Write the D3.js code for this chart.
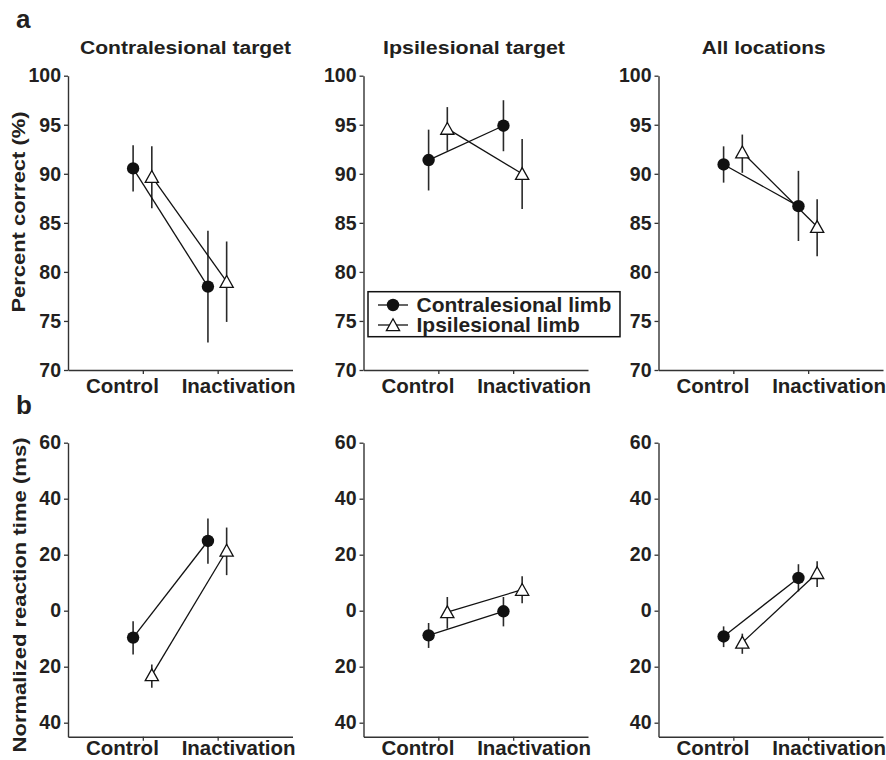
<!DOCTYPE html>
<html>
<head>
<meta charset="utf-8">
<script src="https://cdn.jsdelivr.net/npm/d3@7"></script>
<style>
  html, body { margin: 0; padding: 0; background: #fff; }
  svg { display: block; font-family: "Liberation Sans", Arial, Helvetica, sans-serif; font-weight: bold; }
</style>
</head>
<body>
<svg id="fig" width="886" height="760"></svg>
<script>
// ---- data ----
const conditions = ["Control", "Inactivation"];
const panelTitles = ["Contralesional target", "Ipsilesional target", "All locations"];
const seriesNames = ["Contralesional limb", "Ipsilesional limb"];

// Percent correct, one row per panel: [Control, Inactivation]
const accContraMean = [[90.55, 78.5], [91.4, 94.9], [90.95, 86.7]];
const accContraHigh = [[92.9, 84.2], [94.5, 97.5], [92.8, 90.3]];
const accContraLow  = [[88.2, 72.8], [88.3, 92.3], [89.1, 83.15]];
const accIpsiMean   = [[89.7, 79.0], [94.6, 90.0], [92.2, 84.6]];
const accIpsiHigh   = [[92.8, 83.1], [96.8, 93.55], [94.0, 87.4]];
const accIpsiLow    = [[86.5, 74.9], [92.35, 86.4], [90.1, 81.6]];

// Normalized reaction time (ms), one row per panel: [Control, Inactivation]
const rtContraMean = [[-9.6, 24.9], [-8.8, -0.2], [-9.2, 11.7]];
const rtContraHigh = [[-3.8, 32.9], [-4.4, 4.9], [-5.6, 16.6]];
const rtContraLow  = [[-15.6, 16.8], [-13.3, -5.6], [-13.0, 6.9]];
const rtIpsiMean   = [[-23.0, 21.5], [-0.5, 7.5], [-11.4, 13.5]];
const rtIpsiHigh   = [[-19.2, 29.7], [4.9, 12.3], [-8.2, 17.7]];
const rtIpsiLow    = [[-27.5, 12.7], [-6.4, 2.7], [-15.4, 8.5]];

const accTicks = [70, 75, 80, 85, 90, 95, 100];
const rtTicks = [60, 40, 20, 0, -20, -40];
const rtTickLabels = ["60", "40", "20", "0", "20", "40"];

// ---- layout ----
const svg = d3.select("#fig");
const ink = "#231f20";
const panelLeft = [68, 363.5, 658.5];
const panelWidth = 224.5;
const rows = [
  { top: 75.7, bottom: 370, domain: [70, 100], ticks: accTicks, labels: accTicks.map(String), labelBase: 393,
    contra: [accContraMean, accContraHigh, accContraLow], ipsi: [accIpsiMean, accIpsiHigh, accIpsiLow] },
  { top: 442.7, bottom: 736.7, domain: [-45, 60], ticks: rtTicks, labels: rtTickLabels, labelBase: 755,
    contra: [rtContraMean, rtContraHigh, rtContraLow], ipsi: [rtIpsiMean, rtIpsiHigh, rtIpsiLow] }
];
const seriesOffset = [-0.13, 0.12];

function trianglePath(cx, cy) {
  return `M${cx},${cy - 6.2}L${cx + 6.6},${cy + 5.6}L${cx - 6.6},${cy + 5.6}Z`;
}

rows.forEach((row, r) => {
  panelLeft.forEach((x0, p) => {
    const x = d3.scaleLinear().domain([0, 3]).range([x0, x0 + panelWidth]);
    // row a: 70..100; row b: 60 at the top tick, axis runs down to -45
    const y = d3.scaleLinear().domain(row.domain).range([row.bottom, row.top]);

    const g = svg.append("g");

    // y axis
    const yAxis = d3.axisLeft(y).tickValues(row.ticks)
      .tickFormat((d, i) => row.labels[i])
      .tickSize(4).tickSizeOuter(0).tickPadding(3);
    const ya = g.append("g").attr("transform", `translate(${x0},0)`).call(yAxis);
    ya.select(".domain").attr("stroke", "#333").attr("stroke-width", 1.4);
    ya.selectAll(".tick line").attr("stroke", "#333").attr("stroke-width", 1.3);
    ya.selectAll(".tick text").attr("fill", ink).style("font-size", "19.5px")
      .style("font-family", "'Liberation Sans', Arial, sans-serif").style("font-weight", "bold");

    // x axis
    const xAxis = d3.axisBottom(x).tickValues([1, 2]).tickFormat("").tickSize(4).tickSizeOuter(0);
    const xa = g.append("g").attr("transform", `translate(0,${row.bottom})`).call(xAxis);
    xa.select(".domain").attr("stroke", "#333").attr("stroke-width", 1.4);
    xa.selectAll(".tick line").attr("stroke", "#333").attr("stroke-width", 1.3);

    // category labels
    g.append("text").attr("x", x(1) + 16).attr("y", row.labelBase)
      .attr("text-anchor", "end").attr("fill", ink).style("font-size", "20.5px").text(conditions[0]);
    g.append("text").attr("x", x(2) - 36).attr("y", row.labelBase)
      .attr("text-anchor", "start").attr("fill", ink).style("font-size", "20.5px").text(conditions[1]);

    const series = [row.contra, row.ipsi];

    // error bars
    series.forEach((s, si) => {
      const [mean, hi, lo] = s;
      conditions.forEach((c, ci) => {
        const cx = x(ci + 1 + seriesOffset[si]);
        g.append("line").attr("x1", cx).attr("x2", cx)
          .attr("y1", y(hi[p][ci])).attr("y2", y(lo[p][ci]))
          .attr("stroke", "#2a2a2a").attr("stroke-width", 1.6);
      });
    });

    // connecting lines
    series.forEach((s, si) => {
      const mean = s[0];
      const line = d3.line().x((d, ci) => x(ci + 1 + seriesOffset[si])).y(d => y(d));
      g.append("path").datum(mean[p]).attr("d", line)
        .attr("fill", "none").attr("stroke", "#111").attr("stroke-width", 1.3);
    });

    // markers
    conditions.forEach((c, ci) => {
      g.append("circle").attr("cx", x(ci + 1 + seriesOffset[0])).attr("cy", y(row.contra[0][p][ci]))
        .attr("r", 6.2).attr("fill", "#111");
      g.append("path").attr("d", trianglePath(x(ci + 1 + seriesOffset[1]), y(row.ipsi[0][p][ci])))
        .attr("fill", "#fff").attr("stroke", "#111").attr("stroke-width", 1.3);
    });
  });
});

// panel titles
const titleX = [185.5, 474, 763.7];
const titleLen = [211, 182, 124];
panelTitles.forEach((t, i) => {
  svg.append("text").attr("x", titleX[i]).attr("y", 54).attr("text-anchor", "middle")
    .attr("fill", ink).style("font-size", "17.5px")
    .attr("textLength", titleLen[i]).attr("lengthAdjust", "spacingAndGlyphs").text(t);
});

// row letters
svg.append("text").attr("x", 16).attr("y", 28).attr("fill", ink).style("font-size", "26px").text("a");
svg.append("text").attr("x", 16).attr("y", 414).attr("fill", ink).style("font-size", "26px").text("b");

// y axis titles
svg.append("text").attr("transform", "translate(25,212) rotate(-90)").attr("text-anchor", "middle")
  .attr("fill", ink).style("font-size", "18.5px")
  .attr("textLength", 201).attr("lengthAdjust", "spacingAndGlyphs").text("Percent correct (%)");
svg.append("text").attr("transform", "translate(26,595) rotate(-90)").attr("text-anchor", "middle")
  .attr("fill", ink).style("font-size", "18.5px")
  .attr("textLength", 315).attr("lengthAdjust", "spacingAndGlyphs").text("Normalized reaction time (ms)");

// legend
const lg = svg.append("g");
lg.append("rect").attr("x", 368).attr("y", 291.7).attr("width", 252).attr("height", 45)
  .attr("fill", "#fff").attr("stroke", "#111").attr("stroke-width", 1.5);
const legendRows = [305, 325];
seriesNames.forEach((name, i) => {
  const cy = legendRows[i];
  lg.append("line").attr("x1", 378).attr("x2", 408).attr("y1", cy).attr("y2", cy)
    .attr("stroke", "#111").attr("stroke-width", 1.3);
  if (i === 0) {
    lg.append("circle").attr("cx", 393).attr("cy", cy).attr("r", 6.2).attr("fill", "#111");
  } else {
    lg.append("path").attr("d", trianglePath(393, cy)).attr("fill", "#fff")
      .attr("stroke", "#111").attr("stroke-width", 1.3);
  }
  lg.append("text").attr("x", 416.5).attr("y", cy + 7).attr("fill", ink)
    .style("font-size", "21px").text(name);
});
</script>
</body>
</html>
